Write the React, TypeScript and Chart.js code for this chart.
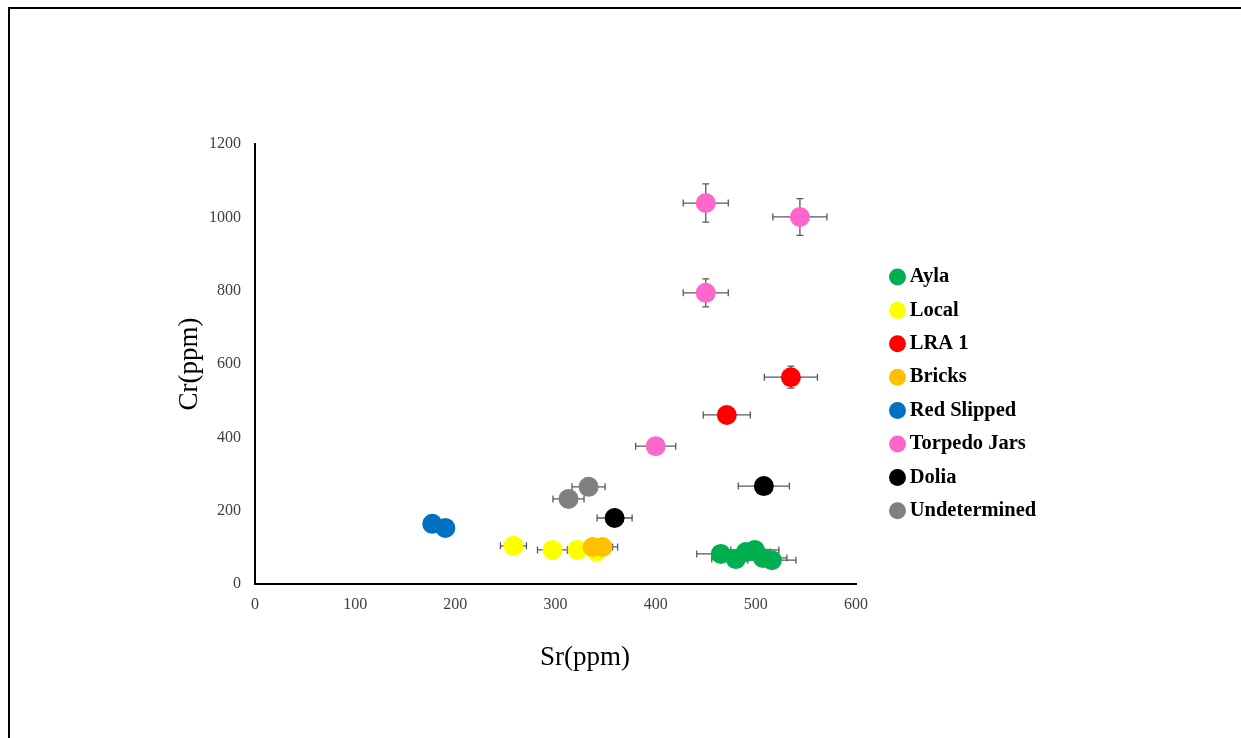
import React, { useEffect, useRef } from 'react';
import { Chart, registerables } from 'chart.js';

Chart.register(...registerables);

// ---------- data ----------
const SERIES_NAMES = ['Ayla', 'Local', 'LRA 1', 'Bricks', 'Red Slipped', 'Torpedo Jars', 'Dolia', 'Undetermined'];
const SERIES_COLORS = ['#00B050', '#FFFF00', '#FF0000', '#FFC000', '#0070C0', '#FF66CC', '#000000', '#808080'];

const aylaSr = [465, 480, 490, 499, 507, 516];
const aylaCr = [82, 68, 87, 93, 71, 65];
const aylaSrErr = [24, 24, 24, 24, 24, 24];
const aylaCrErr = [0, 0, 0, 0, 0, 0];

const localSr = [258, 297, 322, 341];
const localCr = [104, 93, 93, 88];
const localSrErr = [13, 15, 10, 0];
const localCrErr = [0, 0, 0, 0];

const lraSr = [471, 535];
const lraCr = [461, 564];
const lraSrErr = [23.5, 26.5];
const lraCrErr = [0, 30];

const bricksSr = [337, 347];
const bricksCr = [101, 101];
const bricksSrErr = [20, 15];
const bricksCrErr = [0, 0];

const redSlippedSr = [177, 190];
const redSlippedCr = [164, 153];
const redSlippedSrErr = [0, 0];
const redSlippedCrErr = [0, 0];

const torpedoSr = [450, 544, 450, 400];
const torpedoCr = [1039, 1001, 794, 376];
const torpedoSrErr = [22.5, 27, 22.5, 20];
const torpedoCrErr = [52, 50, 38, 0];

const doliaSr = [508, 359];
const doliaCr = [267, 180];
const doliaSrErr = [25.5, 17.5];
const doliaCrErr = [0, 0];

const undeterminedSr = [333, 313];
const undeterminedCr = [265, 232];
const undeterminedSrErr = [16.5, 15.5];
const undeterminedCrErr = [0, 0];

const X_MIN = 0, X_MAX = 600, X_STEP = 100;
const Y_MIN = 0, Y_MAX = 1200, Y_STEP = 200;
const X_TITLE = 'Sr(ppm)';
const Y_TITLE = 'Cr(ppm)';

const SERIES_SR = [aylaSr, localSr, lraSr, bricksSr, redSlippedSr, torpedoSr, doliaSr, undeterminedSr];
const SERIES_CR = [aylaCr, localCr, lraCr, bricksCr, redSlippedCr, torpedoCr, doliaCr, undeterminedCr];
const SERIES_SR_ERR = [aylaSrErr, localSrErr, lraSrErr, bricksSrErr, redSlippedSrErr, torpedoSrErr, doliaSrErr, undeterminedSrErr];
const SERIES_CR_ERR = [aylaCrErr, localCrErr, lraCrErr, bricksCrErr, redSlippedCrErr, torpedoCrErr, doliaCrErr, undeterminedCrErr];

// ---------- styles / layout ----------
const SERIF = "'Liberation Serif', 'Times New Roman', serif";
const TICK_COLOR = '#404040';
const ERR_COLOR = '#595959';
const LEGEND_FONT_SIZE = 20.5;
const LEGEND_PAD = 12.9;
const LEGEND_BOX_W = 4;
const LEGEND_LEFT = 882.6;     // left edge of legend box
const SPACER_W = 26.6;         // gap between plot and legend
const PLOT_LEFT = 255;
const TITLE_X_CENTER = 585;
const Y_TITLE_X = 190;

const errorBarPlugin = {
  id: 'errorBars',
  beforeDatasetsDraw(chart: any) {
    const { ctx } = chart;
    const xs = chart.scales.x;
    const ys = chart.scales.y;
    const cap = 3.5;
    ctx.save();
    ctx.strokeStyle = ERR_COLOR;
    ctx.lineWidth = 1.3;
    for (let i = 0; i < SERIES_SR.length; i++) {
      const sr = SERIES_SR[i], cr = SERIES_CR[i];
      const ex = SERIES_SR_ERR[i], ey = SERIES_CR_ERR[i];
      for (let j = 0; j < sr.length; j++) {
        const px = xs.getPixelForValue(sr[j]);
        const py = ys.getPixelForValue(cr[j]);
        ctx.beginPath();
        if (ex[j]) {
          const l = xs.getPixelForValue(sr[j] - ex[j]);
          const r = xs.getPixelForValue(sr[j] + ex[j]);
          ctx.moveTo(l, py); ctx.lineTo(r, py);
          ctx.moveTo(l, py - cap); ctx.lineTo(l, py + cap);
          ctx.moveTo(r, py - cap); ctx.lineTo(r, py + cap);
        }
        if (ey[j]) {
          const t = ys.getPixelForValue(cr[j] + ey[j]);
          const b = ys.getPixelForValue(cr[j] - ey[j]);
          ctx.moveTo(px, t); ctx.lineTo(px, b);
          ctx.moveTo(px - cap, t); ctx.lineTo(px + cap, t);
          ctx.moveTo(px - cap, b); ctx.lineTo(px + cap, b);
        }
        ctx.stroke();
      }
    }
    ctx.restore();
  },
};

export default function App() {
  const ref = useRef<HTMLCanvasElement>(null);

  useEffect(() => {
    // legend natural width (same formula Chart.js uses) so the layout can be pinned
    const mctx = document.createElement('canvas').getContext('2d') as CanvasRenderingContext2D;
    mctx.font = `bold ${LEGEND_FONT_SIZE}px ${SERIF}`;
    const maxText = Math.max(...SERIES_NAMES.map((n) => mctx.measureText(n).width));
    const legendW = LEGEND_PAD + LEGEND_BOX_W + LEGEND_FONT_SIZE / 2 + maxText + 10;
    const padRight = 1241 - LEGEND_LEFT - legendW;
    const padLeft = 2 * TITLE_X_CENTER - (1241 - padRight);
    const yScaleW = PLOT_LEFT - padLeft;
    const yTitlePadTop = Y_TITLE_X - padLeft - (27 * 1.2) / 2;

    const datasets = SERIES_NAMES.map((name, i) => ({
      label: name,
      data: SERIES_SR[i].map((v, j) => ({ x: v, y: SERIES_CR[i][j] })),
      backgroundColor: SERIES_COLORS[i],
      borderColor: SERIES_COLORS[i],
      borderWidth: 0,
      pointRadius: 10,
      pointBorderWidth: 0,
      pointStyle: 'circle',
      order: SERIES_NAMES.length - i,
    }));

    const chart = new Chart(ref.current as HTMLCanvasElement, {
      type: 'scatter',
      data: { datasets },
      options: {
        responsive: false,
        animation: false,
        events: [],
        layout: { padding: { left: padLeft, right: padRight, top: 144, bottom: 94.2 } },
        scales: {
          x: {
            type: 'linear',
            position: 'bottom',
            min: X_MIN,
            max: X_MAX,
            ticks: {
              stepSize: X_STEP,
              padding: 11,
              color: TICK_COLOR,
              font: { family: SERIF, size: 16 },
              callback: (v: any) => String(v),
            },
            grid: { display: false, drawTicks: false },
            border: { display: true, color: '#000000', width: 2 },
            afterFit: (s: any) => { s.height = 40; },
          },
          x2: {
            type: 'linear',
            position: 'bottom',
            fullSize: true,
            min: 0,
            max: 1,
            ticks: { display: false },
            grid: { display: false, drawTicks: false },
            border: { display: false },
            title: {
              display: true,
              text: X_TITLE,
              color: '#000000',
              font: { family: SERIF, size: 27 },
              padding: { top: 0, bottom: -30.4 },
            },
            afterFit: (s: any) => { s.height = 19.8; },
          },
          y: {
            type: 'linear',
            position: 'left',
            min: Y_MIN,
            max: Y_MAX,
            ticks: {
              stepSize: Y_STEP,
              padding: 14,
              color: TICK_COLOR,
              font: { family: SERIF, size: 16 },
              callback: (v: any) => String(v),
            },
            grid: { display: false, drawTicks: false },
            border: { display: true, color: '#000000', width: 2 },
            title: {
              display: true,
              text: Y_TITLE,
              color: '#000000',
              font: { family: SERIF, size: 27 },
              padding: { top: yTitlePadTop, bottom: 0 },
            },
            afterFit: (s: any) => { s.width = yScaleW; },
          },
          y2: {
            type: 'linear',
            position: 'right',
            min: 0,
            max: 1,
            ticks: { display: false },
            grid: { display: false, drawTicks: false },
            border: { display: false },
            afterFit: (s: any) => { s.width = SPACER_W; },
          },
        } as any,
        plugins: {
          title: { display: false },
          tooltip: { enabled: false },
          legend: {
            display: true,
            position: 'right',
            align: 'center',
            maxWidth: legendW + 40,
            labels: {
              usePointStyle: true,
              pointStyle: 'circle',
              boxWidth: LEGEND_BOX_W,
              boxHeight: 12,
              padding: LEGEND_PAD,
              color: '#000000',
              font: { family: SERIF, size: LEGEND_FONT_SIZE, weight: 'bold' },
              sort: (a: any, b: any) => a.datasetIndex - b.datasetIndex,
            },
          } as any,
        },
      },
      plugins: [errorBarPlugin],
    });
    return () => chart.destroy();
  }, []);

  return (
    <>
      <div
        style={{
          position: 'absolute',
          left: 8,
          top: 7,
          width: 1233,
          height: 731,
          boxSizing: 'border-box',
          borderTop: '2px solid #000',
          borderLeft: '2px solid #000',
        }}
      />
      <canvas
        ref={ref}
        width={1241}
        height={738}
        style={{ position: 'absolute', left: 0, top: 0, display: 'block' }}
      />
    </>
  );
}
